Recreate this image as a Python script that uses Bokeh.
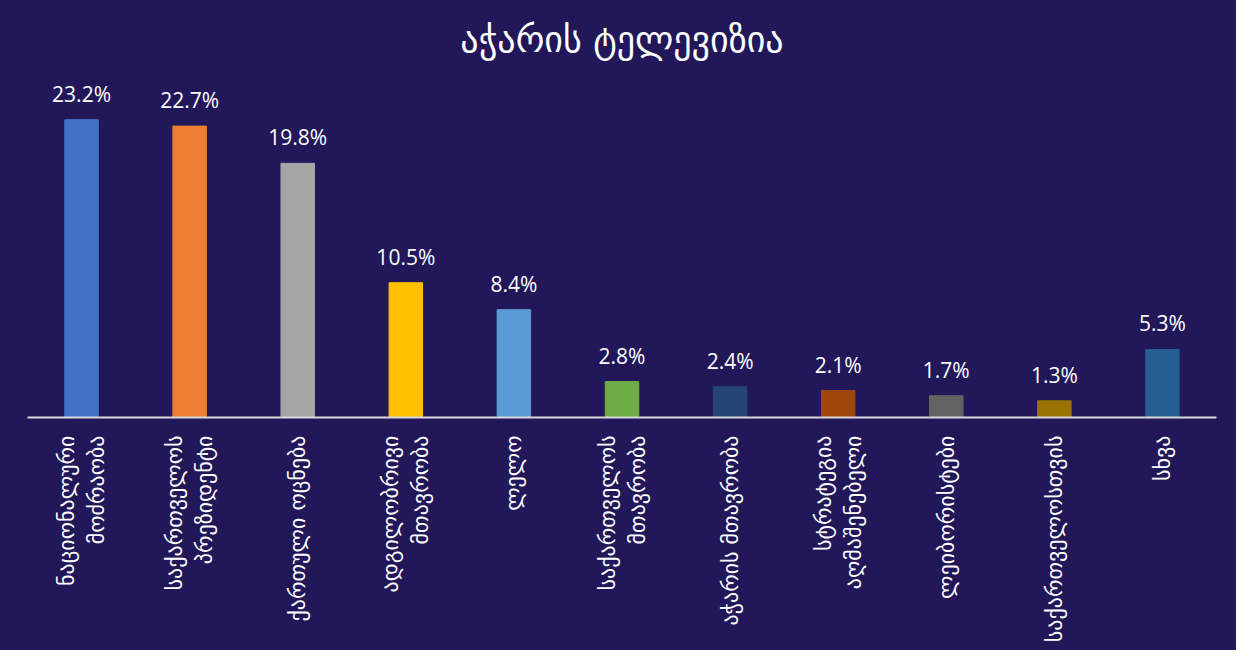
import math
from bokeh.plotting import figure
from bokeh.models import ColumnDataSource
from bokeh.core.properties import value
from bokeh.embed import file_html
from bokeh.resources import INLINE

title = "აჭარის ტელევიზია"
categories = [
    "ნაციონალური\nმოძრაობა",
    "საქართველოს\nპრეზიდენტი",
    "ქართული ოცნება",
    "ადგილობრივი\nმთავრობა",
    "ლელო",
    "საქართველოს\nმთავრობა",
    "აჭარის მთავრობა",
    "სტრატეგია\nაღმაშენებელი",
    "ლეიბორისტები",
    "საქართველოსთვის",
    "სხვა",
]
values = [23.2, 22.7, 19.8, 10.5, 8.4, 2.8, 2.4, 2.1, 1.7, 1.3, 5.3]
colors = ["#4472C4", "#ED7D31", "#A5A5A5", "#FFC000", "#5B9BD5", "#70AD47",
          "#264478", "#9E480E", "#636363", "#997300", "#255E91"]
labels = [f"{v:.1f}%" for v in values]

bg = "#211759"
src = ColumnDataSource(dict(cat=categories, val=values, color=colors, label=labels))

p = figure(x_range=categories, y_range=(0, 27.5), width=1236, height=650,
           output_backend="svg", toolbar_location=None,
           min_border_left=27, min_border_right=20, min_border_top=64, min_border_bottom=233,
           background_fill_color=bg, border_fill_color=bg,
           styles={"background-color": bg})
p.outline_line_color = None

p.vbar(x="cat", top="val", width=0.31, color="color", source=src)
p.text(x="cat", y="val", text="label", source=src, text_align="center", text_baseline="bottom",
       y_offset=-12, text_color="white", text_font=value("Open Sans"), text_font_size="21px")

p.title.text = title
p.title.align = "center"
p.title.text_color = "white"
p.title.text_font = "DejaVu Sans"
p.title.text_font_size = "36px"
p.title.text_font_style = "normal"
p.title.standoff = 10

p.yaxis.visible = False
p.xgrid.visible = False
p.ygrid.visible = False
ax = p.xaxis[0]
ax.axis_line_color = "#D9D9D9"
ax.axis_line_width = 2
ax.major_tick_line_color = None
ax.minor_tick_line_color = None
ax.major_label_orientation = math.pi / 2
ax.major_label_text_color = "white"
ax.major_label_text_font = "DejaVu Sans"
ax.major_label_text_font_size = "22px"
ax.major_label_text_align = "center"
ax.major_label_standoff = 12

open("out.html", "w").write(file_html(p, INLINE))
